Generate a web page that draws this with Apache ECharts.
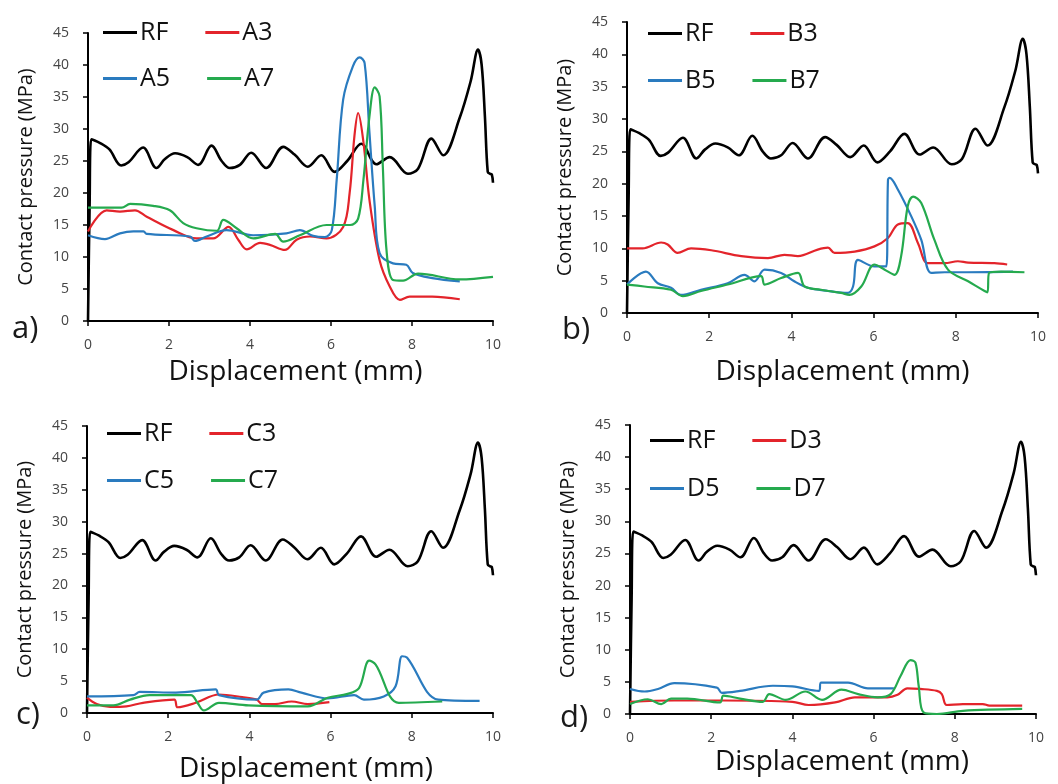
<!DOCTYPE html>
<html>
<head>
<meta charset="utf-8">
<script src="https://cdn.jsdelivr.net/npm/echarts@6/dist/echarts.min.js"></script>
<style>
  html, body { margin: 0; padding: 0; background: #fff; }
  #chart { width: 1058px; height: 784px; }
</style>
</head>
<body>
<div id="chart"></div>
<script>
// reference curve, same in all four panels  [displacement mm, pressure MPa]
const rf = [[0,0],[0.04,18],[0.08,28.4],[0.3,27.8],[0.53,26.8],[0.82,24.3],[1.0,24.8],[1.36,27.1],[1.69,23.9],[1.9,25.3],[2.15,26.2],[2.45,25.6],[2.72,24.4],[3.05,27.4],[3.3,25.0],[3.5,23.9],[3.75,24.4],[4.03,26.3],[4.4,23.9],[4.82,27.2],[5.1,26.0],[5.43,24.1],[5.76,25.9],[6.09,23.3],[6.4,25.0],[6.75,27.7],[7.12,24.5],[7.45,25.6],[7.9,23.0],[8.15,23.8],[8.48,28.5],[8.77,25.9],[9.18,31.8],[9.45,37.5],[9.63,42.4],[9.72,40.0],[9.8,32],[9.87,23.3],[9.93,23.0],[9.97,22.9],[10,21.6]];

// panel a
const a3 = [[0,14.0],[0.46,17.3],[0.79,17.1],[1.16,17.3],[1.45,16.3],[2.11,14.2],[2.68,12.9],[3.09,12.9],[3.47,14.7],[3.71,12.7],[3.92,11.2],[4.25,12.2],[4.49,11.9],[4.86,11.1],[5.15,12.7],[5.48,13.2],[5.89,12.9],[6.3,14.7],[6.46,20],[6.58,29],[6.67,32.5],[6.8,28],[6.95,18.9],[7.2,9.5],[7.45,5.4],[7.7,3.3],[7.94,3.8],[8.5,3.8],[9.18,3.4]];
const a5 = [[0,13.4],[0.42,12.8],[0.79,13.7],[1.12,14.0],[1.37,14.0],[1.45,13.6],[2.52,13.2],[2.64,12.5],[2.93,13.2],[3.42,14.2],[4.08,13.4],[4.9,13.7],[5.23,14.2],[5.56,13.3],[5.85,13.1],[6.02,14.2],[6.14,22],[6.3,34.6],[6.54,39.8],[6.71,41.2],[6.83,40.3],[6.95,29.4],[7.08,17.9],[7.2,10.6],[7.53,9.0],[7.86,8.8],[8.02,7.5],[8.5,6.7],[9.18,6.2]];
const a7 = [[0,17.7],[0.83,17.7],[1.04,18.3],[1.61,18.0],[2.02,17.3],[2.35,15.3],[2.68,14.5],[3.18,14.1],[3.34,15.8],[3.67,14.5],[4.08,12.9],[4.62,13.6],[4.82,12.4],[5.23,13.4],[5.89,15.0],[6.47,15.0],[6.67,16.0],[6.8,22],[6.95,32.0],[7.08,36.5],[7.2,35.1],[7.28,24.1],[7.37,11.1],[7.53,6.4],[7.78,6.3],[8.15,7.4],[9.18,6.5],[10,6.9]];

// panel b
const b3 = [[0,10.0],[0.38,10.0],[0.83,10.9],[0.99,10.6],[1.23,9.3],[1.56,10.0],[2.05,9.7],[2.78,8.8],[3.43,8.5],[3.83,9.0],[4.16,8.8],[4.64,9.8],[4.89,10.1],[5.05,9.3],[5.54,9.5],[6.02,10.3],[6.35,11.6],[6.59,13.7],[6.83,13.9],[7.08,10.8],[7.32,7.7],[7.73,7.7],[8.05,8.0],[8.3,7.8],[8.94,7.7],[9.25,7.5]];
const b5 = [[0,4.4],[0.46,6.4],[0.75,4.6],[1.07,3.9],[1.31,2.8],[1.8,3.6],[2.45,4.6],[2.86,5.9],[3.1,4.9],[3.35,6.7],[3.75,6.2],[4.07,4.9],[4.4,3.9],[4.89,3.4],[5.37,3.1],[5.5,4.1],[5.62,8.2],[6.02,7.2],[6.31,7.2],[6.35,20.6],[6.39,20.9],[6.59,19.1],[6.92,14.9],[7.16,11.3],[7.4,6.2],[7.73,6.3],[8.13,6.3],[9.39,6.4]];
const b7 = [[0,4.4],[0.42,4.1],[1.07,3.6],[1.36,2.6],[1.8,3.4],[2.45,4.4],[3.26,5.7],[3.35,4.4],[3.75,5.4],[4.16,6.2],[4.32,4.1],[4.72,3.6],[5.21,3.1],[5.41,2.8],[5.7,4.1],[6.02,7.5],[6.27,6.7],[6.51,5.9],[6.67,8.8],[6.83,16.5],[6.96,18.0],[7.16,17.0],[7.48,11.3],[7.81,6.7],[8.3,4.9],[8.7,3.4],[8.77,3.2],[8.81,6.2],[9.1,6.4],[9.67,6.3]];

// panel c
const c3 = [[0,2.4],[0.24,1.4],[0.57,0.95],[0.97,1.05],[1.38,1.6],[2.15,2.1],[2.23,0.9],[2.68,1.6],[3.25,2.9],[3.82,2.5],[4.18,2.1],[4.31,1.4],[4.63,1.4],[5.04,1.8],[5.44,1.4],[5.97,1.7]];
const c5 = [[0,2.6],[1.14,2.8],[1.3,3.3],[2.19,3.2],[3.17,3.7],[3.25,2.8],[4.18,2.1],[4.35,3.2],[4.96,3.7],[5.28,3.2],[5.93,2.3],[6.58,2.8],[6.82,2.1],[7.31,2.6],[7.6,4.2],[7.76,8.9],[7.88,8.7],[8.65,2.1],[9.67,1.9]];
const c7 = [[0,1.2],[0.65,1.2],[1.06,2.1],[1.54,2.8],[2.56,2.8],[2.72,1.6],[2.88,0.4],[3.25,1.6],[3.98,1.2],[5.44,1.05],[5.93,2.4],[6.42,3.0],[6.7,3.9],[6.95,8.2],[7.11,7.6],[7.68,1.6],[8.75,1.8]];

// panel d
const d3 = [[0,1.9],[1.09,2.1],[2.3,2.1],[4.0,1.9],[4.4,1.4],[5.05,1.8],[5.54,2.6],[6.34,2.6],[6.59,3.0],[6.83,4.0],[7.15,3.9],[7.56,3.6],[7.68,3.1],[7.8,1.4],[8.2,1.55],[8.69,1.55],[8.85,1.3],[9.66,1.3]];
const d5 = [[0,3.9],[0.36,3.5],[0.69,3.9],[1.09,4.8],[2.14,4.1],[2.26,3.3],[2.71,3.6],[3.52,4.4],[4.0,4.3],[4.65,3.6],[4.71,4.9],[5.37,4.9],[5.86,4.0],[6.5,4.0]];
const d7 = [[0,1.55],[0.44,2.3],[0.77,1.55],[1.01,2.4],[1.41,2.4],[2.22,1.8],[2.3,2.85],[2.71,2.4],[3.27,1.9],[3.43,3.1],[3.84,2.2],[4.32,3.5],[4.73,2.2],[5.21,3.8],[5.62,3.1],[6.1,2.6],[6.42,3.1],[6.67,6.0],[6.91,8.4],[7.03,8.0],[7.11,4.4],[7.23,0.26],[7.56,0],[8.2,0.5],[9.66,0.8]];

const xTicks = { min: 0, max: 10, interval: 2 };
const yTicks = { min: 0, max: 45, interval: 5 };

// layout of the four panels (pixels)
const panels = [
  { tag: 'a)', names: ['A3', 'A5', 'A7'], data: [a3, a5, a7],
    grid: { left: 88, top: 33, width: 405, height: 288 },
    leg: [103, 32, 78], tagPos: [12, 314], xGap: 37, xShift: 5 },
  { tag: 'b)', names: ['B3', 'B5', 'B7'], data: [b3, b5, b7],
    grid: { left: 627, top: 22, width: 411, height: 291 },
    leg: [648, 33, 80], tagPos: [562, 315], xGap: 45, xShift: 10 },
  { tag: 'c)', names: ['C3', 'C5', 'C7'], data: [c3, c5, c7],
    grid: { left: 87, top: 426, width: 406, height: 290 },
    leg: [107, 433, 480], tagPos: [16, 700], xGap: 42, xShift: 16 },
  { tag: 'd)', names: ['D3', 'D5', 'D7'], data: [d3, d5, d7],
    grid: { left: 630, top: 425, width: 406, height: 289 },
    leg: [650, 440, 488], tagPos: [560, 703], xGap: 34, xShift: 9 }
];

const colors = ['#e3242b', '#2a7bbf', '#25aa4e'];
const FONT = 'Open Sans';

const grids = [], xAxes = [], yAxes = [], series = [], legends = [], texts = [];

panels.forEach(function (p, i) {
  const g = p.grid;
  grids.push(g);
  xAxes.push({
    type: 'value', gridIndex: i, min: xTicks.min, max: xTicks.max, interval: xTicks.interval,
    name: 'Displacement (mm)', nameLocation: 'middle', nameGap: p.xGap,
    nameTextStyle: { fontFamily: FONT, fontSize: 28, color: '#111', padding: [0, 0, 0, 2 * p.xShift] },
    axisLine: { lineStyle: { color: '#000', width: 2 } },
    axisTick: { show: true, length: 5, lineStyle: { color: '#000', width: 1.5 } },
    axisLabel: { fontFamily: FONT, fontSize: 14, color: '#444', margin: 17 },
    splitLine: { show: false }
  });
  yAxes.push({
    type: 'value', gridIndex: i, min: yTicks.min, max: yTicks.max, interval: yTicks.interval,
    name: 'Contact pressure (MPa)', nameLocation: 'middle', nameGap: 52, nameRotate: 90,
    nameTextStyle: { fontFamily: FONT, fontSize: 20, color: '#111' },
    axisLine: { lineStyle: { color: '#000', width: 2 } },
    axisTick: { show: true, length: 5, lineStyle: { color: '#000', width: 1.5 } },
    axisLabel: { fontFamily: FONT, fontSize: 14, color: '#444', margin: 19 },
    splitLine: { show: false }
  });

  series.push({
    name: 'RF', type: 'line', xAxisIndex: i, yAxisIndex: i, data: rf,
    showSymbol: false, smooth: 0.35,
    itemStyle: { color: '#000' }, lineStyle: { color: '#000', width: 2.6 }
  });
  p.names.forEach(function (n, k) {
    series.push({
      name: n, type: 'line', xAxisIndex: i, yAxisIndex: i, data: p.data[k],
      showSymbol: false, smooth: 0.35,
      itemStyle: { color: colors[k] }, lineStyle: { color: colors[k], width: 2.2 }
    });
  });

  // two legend rows in the top-left corner of each panel
  const rows = [['RF', p.names[0]], [p.names[1], p.names[2]]];
  rows.forEach(function (row, r) {
    legends.push({
      data: row, left: p.leg[0], top: p.leg[1 + r] - 12,
      orient: 'horizontal', itemGap: 37, itemWidth: 34, itemHeight: 3, icon: 'rect',
      padding: 0, selectedMode: false,
      textStyle: { fontFamily: FONT, fontSize: 25, color: '#111', padding: [0, 0, 0, -2] }
    });
  });

  texts.push({
    type: 'text', left: p.tagPos[0], top: p.tagPos[1],
    style: { text: p.tag, font: '31px "' + FONT + '"', fill: '#1a1a1a' }
  });
});

const chart = echarts.init(document.getElementById('chart'), null, { renderer: 'canvas' });
chart.setOption({
  backgroundColor: '#fff',
  animation: false,
  grid: grids,
  xAxis: xAxes,
  yAxis: yAxes,
  legend: legends,
  graphic: texts,
  series: series
});
</script>
</body>
</html>
